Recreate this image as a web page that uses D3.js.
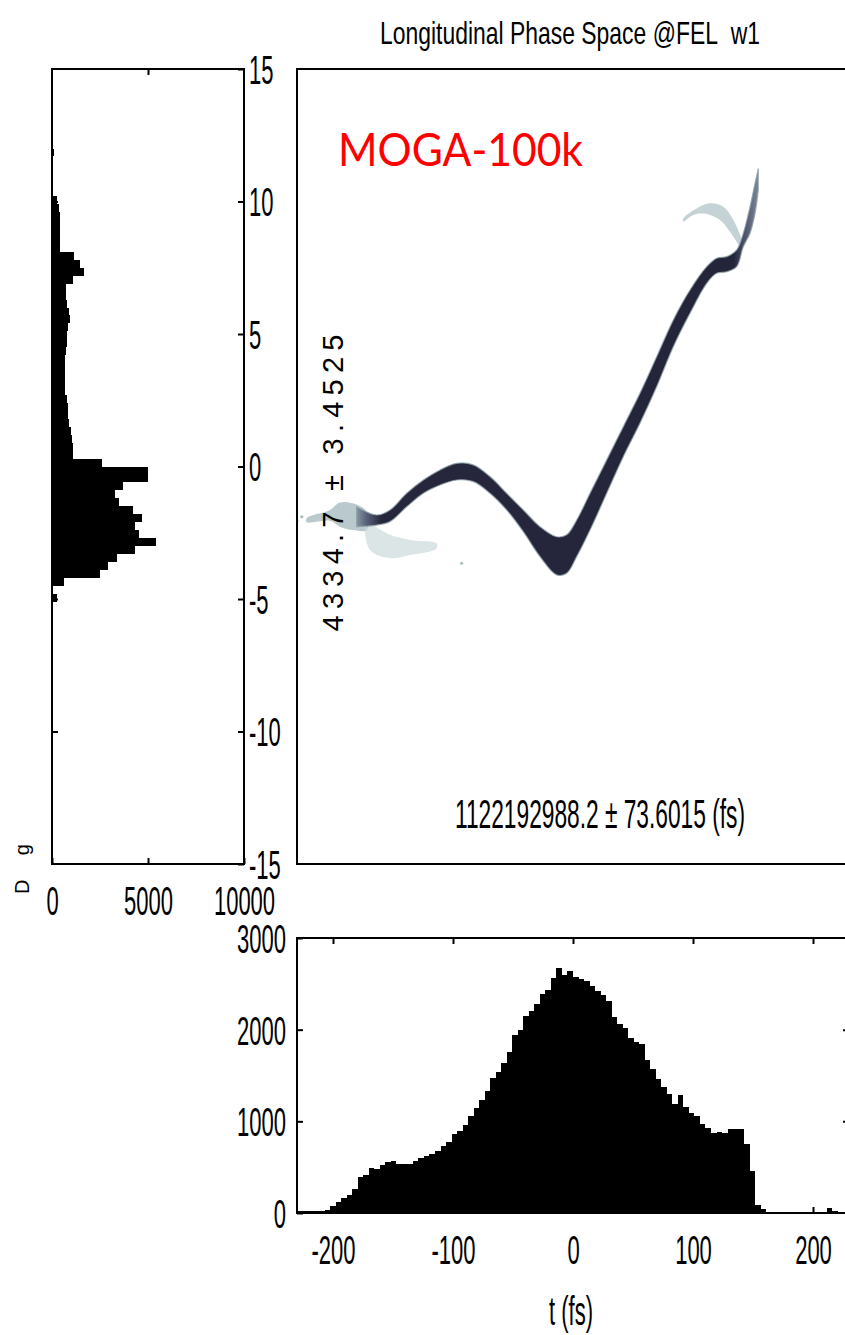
<!DOCTYPE html>
<html><head><meta charset="utf-8">
<script src="https://cdn.jsdelivr.net/npm/d3@7"></script>
<style>body{margin:0;background:#fff}svg{display:block}</style>
</head><body>
<svg id="c" width="845" height="1335"></svg>
<script>
// ---------------- DATA ----------------
const titleText = "Longitudinal Phase Space @FEL\u00A0\u00A0w1";
const tagText = "MOGA-100k";
const energyStatText = "4334.7 \u00B1 3.4525";
const timeStatText = "1122192988.2 \u00B1 73.6015 (fs)";
const energyAxisLabel = "D g";
const timeAxisLabel = "t (fs)";

const energyTicks = [-15, -10, -5, 0, 5, 10, 15];
const energyCountTicks = [0, 5000, 10000];
const timeTicks = [-200, -100, 0, 100, 200];
const timeCountTicks = [0, 1000, 2000, 3000];

// energy histogram: bins of 0.3 starting at -15 (counts)
const energyBinStart = -15, energyBinWidth = 0.3;
const energyCounts = [
  60, 0,0,0,0,0,0,0,0, 60, 0,0,0,0,0,0,0, 60, 0,0,0,0,0,0,0,0,0,0,0,0,
  50, 40, 60, 250, 30, 650, 2500, 2900, 3400, 4300,
  5400, 4550, 4300, 4700, 4200, 3500, 3300, 3700, 5000, 5000,
  2600, 1100, 1100, 1050, 1000, 900, 850, 830, 760, 700,
  690, 680, 680, 680, 720, 780, 800, 850, 940, 900,
  780, 750, 730, 1100, 1670, 1460, 1150, 430, 420, 420,
  420, 400, 350, 280, 60, 50, 50, 40, 40, 90,
  30, 0,0,0,0,0,0,0,0,0
];

// time histogram: bins of 4.6 fs starting at -230 (counts)
const timeBinStart = -230, timeBinWidth = 4.6;
const timeCounts = [
  20,20,20,20,20,30,80,120,160,200,
  260,390,420,490,480,520,560,570,540,530,
  530,570,600,620,640,680,730,780,860,900,
  960,1060,1150,1230,1330,1470,1540,1640,1760,1940,
  2000,2150,2200,2280,2390,2430,2560,2670,2600,2640,
  2580,2550,2530,2480,2420,2380,2310,2140,2060,2020,
  1910,1870,1840,1670,1570,1460,1370,1300,1190,1290,
  1160,1090,1060,970,930,870,880,870,920,920,
  920,750,460,90,40,15,10,10,10,10,
  10,10,10,10,10,10,60,20,10,10
];

// phase-space core band (t in fs, upper/lower energy edge)
const bandT = [-180.3,-163.6,-152.5,-138.6,-124.7,-110.8,-96.9,-83.1,-69.2,-55.3,-41.4,-27.5,-13.6,-5.3,3.1,14.2,28.1,41.9,55.8,69.7,83.6,97.5,111.4,119.7,128.1,136.4,141.9,147.5,151.7,154.4];
const bandTop = [-1.52,-1.83,-1.64,-1.01,-0.51,-0.13,0.12,0.06,-0.38,-1.01,-1.64,-2.27,-2.65,-2.58,-2.02,-1.01,0.25,1.50,2.76,4.14,5.53,6.66,7.54,7.86,7.92,8.17,8.80,9.80,10.69,11.25];
const bandBottom = [-2.27,-2.21,-2.08,-1.52,-1.01,-0.70,-0.51,-0.57,-1.01,-1.64,-2.46,-3.40,-4.09,-4.03,-3.40,-2.40,-1.01,0.37,1.63,3.01,4.52,5.78,6.91,7.29,7.35,7.54,8.29,8.80,9.55,10.43];

// sparse halo regions [t, energy]
const haloUpperRight = [[91.9,9.36],[103.1,9.74],[114.2,9.93],[125.3,9.80],[133.6,9.30],[140.6,8.55],[141.5,8.17],[130.8,8.86],[122.5,9.30],[111.4,9.53],[100.3,9.49],[91.9,9.24]];
const haloLowerLeft = [[-171.9,-2.15],[-152.5,-2.58],[-135.8,-2.77],[-113.6,-2.90],[-113.6,-3.09],[-135.8,-3.34],[-152.5,-3.46],[-169.2,-3.15]];
const haloLeftTail = [[-222,-1.95],[-202.5,-1.64],[-194.2,-1.36],[-183,-1.40],[-171.9,-1.70],[-171.9,-2.40],[-183,-2.40],[-194.2,-2.27],[-202.5,-2.05],[-222,-2.10]];
const haloDots = [[-92.8,-3.65],[-226,-1.9],[-230,-2.05]];

// ---------------- SCALES ----------------
const svg = d3.select("#c");
const yE = d3.scaleLinear([-15, 15], [864, 69]);
const xC = d3.scaleLinear([0, 10000], [52, 244]);
const xT = d3.scaleLinear([-230, 230], [297, 849]);
const yC = d3.scaleLinear([0, 3000], [1213, 938]);

const FONT = "'Liberation Sans', Arial, sans-serif";
const SX = 0.55;
const fmt = d => String(d);

function styleAxisText(g, dyEm) {
  g.selectAll(".domain").remove();
  g.selectAll(".tick line").attr("stroke", "#000").attr("stroke-width", 2);
  g.selectAll(".tick text").each(function () {
    const t = d3.select(this);
    const xa = this.getAttribute("x");
    if (xa !== null) t.attr("x", (+xa) / SX);
    t.attr("transform", `scale(${SX},1)`).attr("fill", "#000");
    if (dyEm !== undefined) t.attr("dy", dyEm);
  });
  g.attr("font-family", FONT).attr("font-size", 40);
}

// ---------------- LEFT ENERGY HISTOGRAM ----------------
const gL = svg.append("g");
gL.append("g").attr("shape-rendering", "crispEdges")
  .selectAll("rect.eb").data(energyCounts).join("rect")
  .attr("class", "eb")
  .attr("x", xC(0))
  .attr("y", (d, i) => yE(energyBinStart + (i + 1) * energyBinWidth))
  .attr("width", d => Math.max(0, xC(d) - xC(0)))
  .attr("height", (d, i) => yE(energyBinStart + i * energyBinWidth) - yE(energyBinStart + (i + 1) * energyBinWidth))
  .attr("fill", "#000");

gL.append("rect").attr("x", xC(0)).attr("y", yE(15)).attr("width", xC(10000) - xC(0)).attr("height", yE(-15) - yE(15))
  .attr("fill", "none").attr("stroke", "#000").attr("stroke-width", 2);

gL.append("g").attr("transform", `translate(${xC(10000)},0)`)
  .call(d3.axisRight(yE).tickValues(energyTicks).tickSizeInner(-6).tickSizeOuter(0).tickPadding(5).tickFormat(fmt))
  .call(g => styleAxisText(g, "0.36em"));
gL.append("g").attr("transform", `translate(${xC(0)},0)`)
  .call(d3.axisLeft(yE).tickValues(energyTicks.slice(1, -1)).tickSizeInner(-6).tickSizeOuter(0).tickFormat(""))
  .call(g => styleAxisText(g));
gL.append("g").attr("transform", `translate(0,${yE(-15)})`)
  .call(d3.axisBottom(xC).tickValues(energyCountTicks).tickSizeInner(-6).tickSizeOuter(0).tickPadding(23).tickFormat(fmt))
  .call(g => styleAxisText(g));
gL.append("g").attr("transform", `translate(0,${yE(15)})`)
  .call(d3.axisTop(xC).tickValues([5000]).tickSizeInner(-6).tickSizeOuter(0).tickFormat(""))
  .call(g => styleAxisText(g));

// energy axis label (rotated)
svg.append("text")
  .attr("transform", `translate(29,869) rotate(-90)`)
  .attr("text-anchor", "middle").attr("font-family", FONT).attr("font-size", 20)
  .attr("textLength", 50).attr("lengthAdjust", "spacing")
  .text(energyAxisLabel);

// ---------------- MAIN PHASE SPACE ----------------
const gM = svg.append("g");
const defs = svg.append("defs");
const clip = defs.append("clipPath").attr("id", "mclip");
clip.append("rect").attr("x", xT(-230)).attr("y", yE(15)).attr("width", xT(230) - xT(-230)).attr("height", yE(-15) - yE(15));

const grad = defs.append("linearGradient").attr("id", "bandGrad")
  .attr("gradientUnits", "userSpaceOnUse")
  .attr("x1", xT(-185)).attr("x2", xT(158)).attr("y1", 0).attr("y2", 0);
const gStops = [[-185, "#9fb4b9"], [-172, "#59607a"], [-160, "#26273c"], [134, "#24253a"], [143, "#4d546b"], [158, "#8b96a6"]];
gStops.forEach(([t, c]) => grad.append("stop").attr("offset", (t + 185) / 343).attr("stop-color", c));

const gMc = gM.append("g").attr("clip-path", "url(#mclip)");
const polyLine = d3.line().x(d => xT(d[0])).y(d => yE(d[1])).curve(d3.curveCatmullRomClosed.alpha(0.5));

gMc.append("path").datum(haloLeftTail).attr("d", polyLine).attr("fill", "#a3b7bc").attr("opacity", 0.75);
gMc.append("path").datum(haloLowerLeft).attr("d", polyLine).attr("fill", "#c3d3d5").attr("opacity", 0.6);
gMc.append("path").datum(haloUpperRight).attr("d", polyLine).attr("fill", "#b2c4c8").attr("opacity", 0.75);
gMc.selectAll("circle.hd").data(haloDots).join("circle").attr("class", "hd")
  .attr("cx", d => xT(d[0])).attr("cy", d => yE(d[1])).attr("r", 1.6).attr("fill", "#a9bdc1");

const bandData = bandT.map((t, i) => ({ t, top: bandTop[i], bot: bandBottom[i] }));
const bandArea = d3.area().x(d => xT(d.t)).y0(d => yE(d.bot)).y1(d => yE(d.top)).curve(d3.curveCatmullRom.alpha(0.5));
gMc.append("path").datum(bandData).attr("d", bandArea)
  .attr("fill", "url(#bandGrad)").attr("stroke", "#8ea2a8").attr("stroke-width", 1.2).attr("stroke-opacity", 0.8);

gM.append("rect").attr("x", xT(-230)).attr("y", yE(15)).attr("width", xT(230) - xT(-230)).attr("height", yE(-15) - yE(15))
  .attr("fill", "none").attr("stroke", "#000").attr("stroke-width", 2);

// texts
svg.append("text").attr("x", 570).attr("y", 44).attr("text-anchor", "middle")
  .attr("font-family", FONT).attr("font-size", 32).attr("textLength", 380).attr("lengthAdjust", "spacingAndGlyphs")
  .text(titleText);
svg.append("text").attr("x", 338).attr("y", 166)
  .attr("font-family", "Lato, 'Open Sans', sans-serif").attr("font-size", 46).attr("fill", "#ff0000")
  .attr("textLength", 245).attr("lengthAdjust", "spacingAndGlyphs")
  .text(tagText);
svg.append("text").attr("transform", `translate(343,483) rotate(-90)`).attr("text-anchor", "middle")
  .attr("font-family", FONT).attr("font-size", 29).attr("textLength", 297).attr("lengthAdjust", "spacing")
  .text(energyStatText);
svg.append("text").attr("x", 600).attr("y", 828).attr("text-anchor", "middle")
  .attr("font-family", FONT).attr("font-size", 41).attr("textLength", 290).attr("lengthAdjust", "spacingAndGlyphs")
  .text(timeStatText);

// ---------------- BOTTOM TIME HISTOGRAM ----------------
const gB = svg.append("g");
gB.append("g").attr("shape-rendering", "crispEdges")
  .selectAll("rect.tb").data(timeCounts).join("rect")
  .attr("class", "tb")
  .attr("x", (d, i) => xT(timeBinStart + i * timeBinWidth))
  .attr("width", (d, i) => xT(timeBinStart + (i + 1) * timeBinWidth) - xT(timeBinStart + i * timeBinWidth))
  .attr("y", d => yC(d))
  .attr("height", d => yC(0) - yC(d))
  .attr("fill", "#000");

gB.append("rect").attr("x", xT(-230)).attr("y", yC(3000)).attr("width", xT(230) - xT(-230)).attr("height", yC(0) - yC(3000))
  .attr("fill", "none").attr("stroke", "#000").attr("stroke-width", 2);

gB.append("g").attr("transform", `translate(0,${yC(0)})`)
  .call(d3.axisBottom(xT).tickValues(timeTicks).tickSizeInner(-6).tickSizeOuter(0).tickPadding(23).tickFormat(fmt))
  .call(g => styleAxisText(g));
gB.append("g").attr("transform", `translate(0,${yC(3000)})`)
  .call(d3.axisTop(xT).tickValues(timeTicks).tickSizeInner(-6).tickSizeOuter(0).tickFormat(""))
  .call(g => styleAxisText(g));
gB.append("g").attr("transform", `translate(${xT(-230)},0)`)
  .call(d3.axisLeft(yC).tickValues(timeCountTicks).tickSizeInner(-6).tickSizeOuter(0).tickPadding(11).tickFormat(fmt))
  .call(g => styleAxisText(g, "0.36em"));
gB.append("g").attr("transform", `translate(${xT(230)},0)`)
  .call(d3.axisRight(yC).tickValues([1000, 2000]).tickSizeInner(-6).tickSizeOuter(0).tickFormat(""))
  .call(g => styleAxisText(g));

svg.append("text").attr("transform", `translate(571,1325) scale(${SX},1)`).attr("text-anchor", "middle")
  .attr("font-family", FONT).attr("font-size", 40).text(timeAxisLabel);
</script>
</body></html>
